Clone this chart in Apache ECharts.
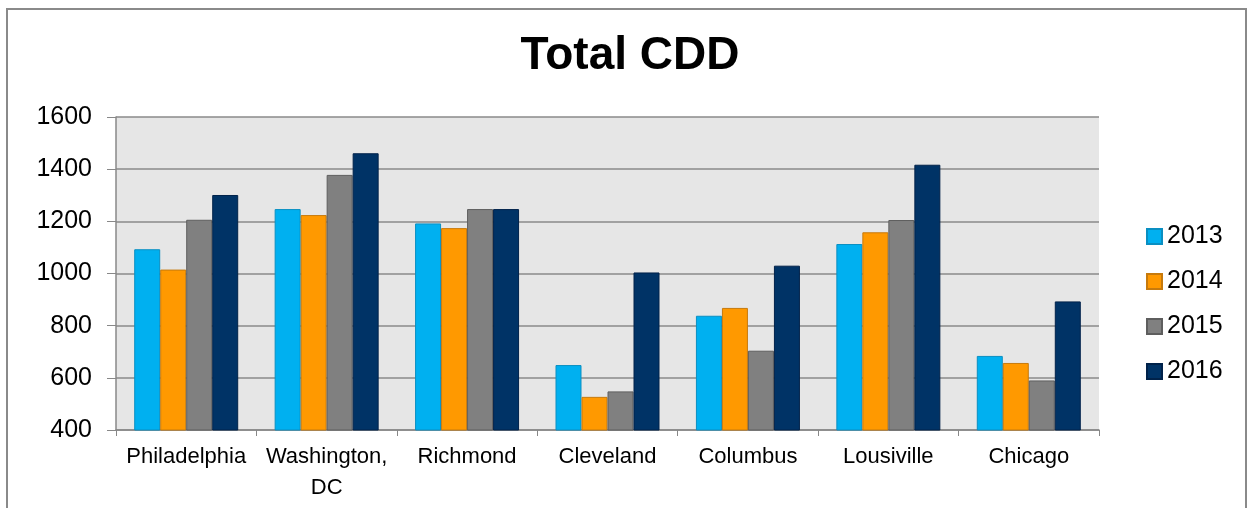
<!DOCTYPE html>
<html><head><meta charset="utf-8">
<script src="https://cdn.jsdelivr.net/npm/echarts@6/dist/echarts.min.js"></script>
<style>html,body{margin:0;padding:0;background:#fff}#c{width:1255px;height:508px}</style>
</head><body><div id="c"></div>
<script>
const categories = ['Philadelphia', 'Washington,\nDC', 'Richmond', 'Cleveland', 'Columbus', 'Lousiville', 'Chicago'];
const years = ['2013', '2014', '2015', '2016'];
const v2013 = [1093, 1247, 1192, 649, 838, 1113, 684];
const v2014 = [1015, 1224, 1174, 527, 868, 1158, 657];
const v2015 = [1206, 1378, 1247, 548, 704, 1205, 590];
const v2016 = [1301, 1461, 1247, 1004, 1030, 1417, 893];
const values = [v2013, v2014, v2015, v2016];
const fills = ['#00B0F0', '#FF9900', '#808080', '#003366'];
const borders = ['#0A8FC2', '#C77A0C', '#5E5E5E', '#00224A'];
const FONT = 'Liberation Sans, Arial, sans-serif';

const chart = echarts.init(document.getElementById('c'));
chart.setOption({
  animation: false,
  textStyle: { fontFamily: FONT },
  graphic: [
    { type: 'rect', shape: { x: 7, y: 9, width: 1239, height: 520 },
      style: { fill: 'none', stroke: '#8a8a8a', lineWidth: 2 }, silent: true, z: -1 },
    { type: 'text', x: 630, y: 56, silent: true,
      style: { text: 'Total CDD', fontSize: 46, fontWeight: 'bold', fill: '#000', font: 'bold 46px ' + FONT,
               textAlign: 'center', textVerticalAlign: 'middle' } }
  ],
  legend: {
    orient: 'vertical', left: 1141, top: 219, itemWidth: 15, itemHeight: 15, itemGap: 20,
    icon: 'rect',
    textStyle: { fontSize: 25, color: '#000', lineHeight: 25 },
    data: years
  },
  grid: { left: 116, right: 156, top: 117, bottom: 78, show: true, backgroundColor: '#E6E6E6', borderWidth: 0 },
  xAxis: {
    type: 'category', data: categories,
    axisLine: { lineStyle: { color: '#888', width: 1.5 } },
    axisTick: { show: true, interval: 0, length: 6, lineStyle: { color: '#888' } },
    axisLabel: { interval: 0, fontSize: 22, color: '#000', margin: 11, lineHeight: 31 }
  },
  yAxis: {
    type: 'value', min: 400, max: 1600, interval: 200,
    axisLine: { show: true, lineStyle: { color: '#888', width: 1.5 } },
    axisTick: { show: true, length: 9, lineStyle: { color: '#888' } },
    splitLine: { lineStyle: { color: '#8a8a8a', width: 1.5 } },
    axisLabel: { fontSize: 25, color: '#000', margin: 24, formatter: v => String(v) }
  },
  series: years.map((y, i) => ({
    name: y, type: 'bar', data: values[i],
    barWidth: 26, barGap: '0%',
    itemStyle: { color: fills[i], borderColor: borders[i], borderWidth: 1 }
  }))
});
</script></body></html>
